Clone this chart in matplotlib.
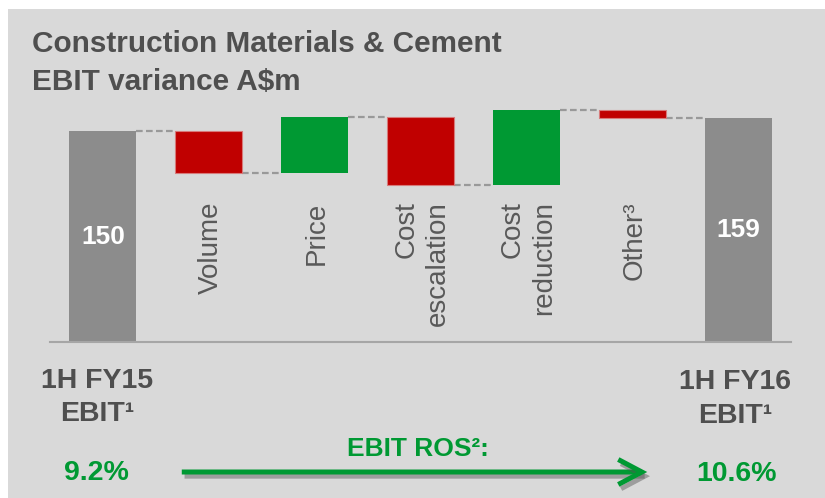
import numpy as np
import matplotlib
matplotlib.use('Agg')
import matplotlib.pyplot as plt
import matplotlib.patheffects as pe
from matplotlib.patches import Rectangle, FancyArrowPatch

plt.rcParams['font.family'] = ['Liberation Sans', 'DejaVu Sans']

# waterfall data (A$m)
start_label = '1H FY15\nEBIT¹'
end_label = '1H FY16\nEBIT¹'
step_labels = ['Volume', 'Price', 'Cost\nescalation', 'Cost\nreduction', 'Other³']
start_value = 150
step_values = [-30, 40, -48, 53, -6]
end_value = 159
ros_start = '9.2%'
ros_end = '10.6%'
ros_label = 'EBIT ROS²:'

GREY_BAR = '#8c8c8c'
RED = '#c00000'
GREEN = '#009933'
TEXT = '#595959'
DARK = '#4f4f4f'
PANEL = '#d9d9d9'

fig = plt.figure(figsize=(8.25, 4.98), dpi=100)
fig.patch.set_facecolor('white')
fig.add_artist(Rectangle((8 / 825, 0), 1, 1 - 9 / 498, transform=fig.transFigure,
                         facecolor=PANEL, edgecolor='none', zorder=0))

fig.text(32 / 825, 1 - 52 / 498, 'Construction Materials & Cement', fontsize=21.4,
         fontweight='bold', color=DARK, va='baseline', ha='left')
fig.text(32 / 825, 1 - 90 / 498, 'EBIT variance A$m', fontsize=21.4,
         fontweight='bold', color=DARK, va='baseline', ha='left')

ax = fig.add_axes([50 / 825, 1 - 342 / 498, 741 / 825, 239 / 498])
ax.set_facecolor('none')
ax.set_xlim(-0.5, 6.5)
ax.set_ylim(0, 170)

w = 0.633
n = len(step_values)

# totals
ax.bar(0, start_value, width=w, color=GREY_BAR, zorder=2)
ax.bar(n + 1, end_value, width=w, color=GREY_BAR, zorder=2)
ax.text(0, start_value / 2, str(start_value), color='white', fontsize=19,
        fontweight='bold', ha='center', va='center', zorder=3)
ax.text(n + 1, end_value / 2, str(end_value), color='white', fontsize=19,
        fontweight='bold', ha='center', va='center', zorder=3)

# steps
level = start_value
levels = [level]
for i, v in enumerate(step_values):
    x = i + 1
    if v < 0:
        ax.bar(x, v, bottom=level, width=w, color=RED, edgecolor='#d77a7a',
               linewidth=0.8, zorder=2)
    else:
        ax.bar(x, v, bottom=level, width=w, color=GREEN, zorder=2)
    level += v
    levels.append(level)
    ax.text(x + 0.02, 100, step_labels[i], rotation=90, ha='center', va='top',
            multialignment='right', fontsize=20, color=TEXT, linespacing=1.27)

# connectors
for i, lv in enumerate(levels):
    ax.plot([i + w / 2, i + 1 - w / 2], [lv, lv], color='#999999', lw=1.6,
            ls=(0, (3, 1.5)), zorder=1)

for s in ['top', 'left', 'right']:
    ax.spines[s].set_visible(False)
ax.spines['bottom'].set_color('#a6a6a6')
ax.spines['bottom'].set_linewidth(1.5)
ax.set_xticks([])
ax.set_yticks([])

# bottom labels
ax.annotate(start_label, xy=(0, 0), xytext=(-4, -40), textcoords='offset points',
            ha='center', va='center', fontsize=20.5, fontweight='bold',
            color=DARK, linespacing=1.36, annotation_clip=False)
ax.annotate(end_label, xy=(n + 1, 0), xytext=(-2, -41), textcoords='offset points',
            ha='center', va='center', fontsize=20.5, fontweight='bold',
            color=DARK, linespacing=1.36, annotation_clip=False)

fig.text(96 / 825, 1 - 473 / 498, ros_start, fontsize=20.5, fontweight='bold',
         color=GREEN, ha='center', va='center')
fig.text(737 / 825, 1 - 474 / 498, ros_end, fontsize=20.5, fontweight='bold',
         color=GREEN, ha='center', va='center')
fig.text(418 / 825, 1 - 449 / 498, ros_label, fontsize=19, fontweight='bold',
         color=GREEN, ha='center', va='center')

arrow = FancyArrowPatch((179 / 825, 1 - 472 / 498), (650 / 825, 1 - 472 / 498),
                        transform=fig.transFigure,
                        arrowstyle='->,head_length=0.85,head_width=0.45',
                        mutation_scale=20, color=GREEN, lw=3.6,
                        capstyle='butt', joinstyle='miter')
arrow.set_path_effects([pe.SimpleLineShadow(offset=(2, -3), shadow_color='#555555',
                                            alpha=0.45), pe.Normal()])
fig.add_artist(arrow)

fig.savefig('out.png', dpi=100, facecolor=fig.get_facecolor())
